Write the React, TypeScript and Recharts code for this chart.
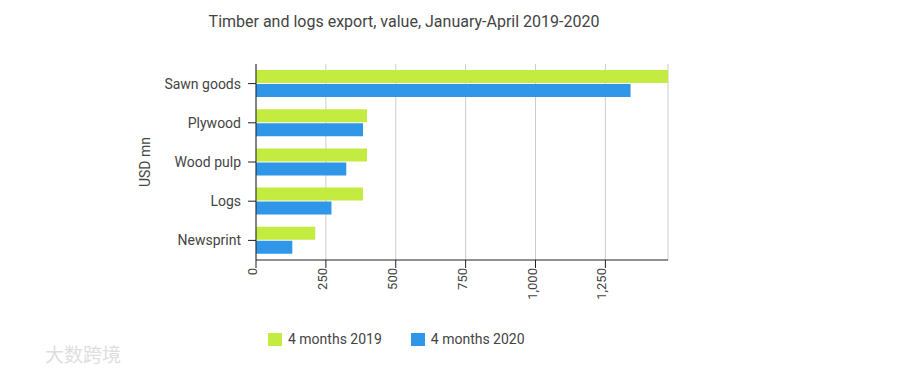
import { BarChart, Bar, XAxis, YAxis, CartesianGrid, Legend } from "recharts";

// values, USD mn
const categories = ["Sawn goods", "Plywood", "Wood pulp", "Logs", "Newsprint"];
const months2019 = [1474, 397, 397, 383, 212];
const months2020 = [1340, 383, 323, 270, 130];
const xTicks = [0, 250, 500, 750, 1000, 1250];

const seriesNames = ["4 months 2019", "4 months 2020"];
const colors = ["#c3eb40", "#2f96e8"];

const data = categories.map((name, i) => ({
  name,
  y2019: months2019[i],
  y2020: months2020[i],
}));

const FONT = "Roboto, Arial, sans-serif";
const TEXT = "#444";

function XTick({ x, y, payload }: any) {
  const px = x + 1;
  return (
    <text
      x={px}
      y={y}
      transform={`rotate(-90, ${px}, ${y})`}
      textAnchor="end"
      fontSize={13}
      fontFamily={FONT}
      fill={TEXT}
    >
      {Number(payload.value).toLocaleString("en-US")}
    </text>
  );
}

function LegendBox() {
  return (
    <div style={{ display: "flex", paddingLeft: 268, fontFamily: FONT, fontSize: 14, color: TEXT, lineHeight: "20px" }}>
      {seriesNames.map((s, i) => (
        <div key={s} style={{ display: "flex", alignItems: "center", marginRight: 29 }}>
          <span style={{ width: 14, height: 13, background: colors[i], marginRight: 6, display: "inline-block" }} />
          <span>{s}</span>
        </div>
      ))}
    </div>
  );
}

export default function App() {
  return (
    <div style={{ position: "absolute", left: 0, top: 0, width: 920, height: 374, background: "#fff" }}>
      <div
        style={{
          position: "absolute", left: 0, top: 12, width: 808, textAlign: "center",
          fontFamily: FONT, fontSize: 16, color: TEXT, lineHeight: "20px",
        }}
      >
        Timber and logs export, value, January-April 2019-2020
      </div>
      <BarChart
        width={920}
        height={374}
        data={data}
        layout="vertical"
        margin={{ top: 64, right: 252, bottom: 25, left: 0 }}
        barSize={13}
        barGap={1}
      >
        <CartesianGrid horizontal={false} stroke="#ccc" />
        <XAxis
          type="number"
          domain={[0, "dataMax"]}
          ticks={xTicks}
          height={69}
          tickSize={8}
          tickMargin={0}
          stroke="#222"
          tick={<XTick />}
        />
        <YAxis
          type="category"
          dataKey="name"
          width={256}
          tickSize={8}
          tickMargin={7}
          stroke="#222"
          tick={{ fontSize: 14, fontFamily: FONT, fill: TEXT }}
          label={{ value: "USD mn", angle: -90, position: "center", dx: 17, style: { fontSize: 14, fontFamily: FONT, fill: TEXT } }}
        />
        <Legend verticalAlign="bottom" content={<LegendBox />} wrapperStyle={{ left: 0, width: 920 }} />
        <Bar dataKey="y2019" name={seriesNames[0]} fill={colors[0]} isAnimationActive={false} />
        <Bar dataKey="y2020" name={seriesNames[1]} fill={colors[1]} isAnimationActive={false} />
      </BarChart>
      <div
        style={{
          position: "absolute", left: 45, top: 343, fontFamily: "'Noto Sans CJK SC', sans-serif",
          fontSize: 19, color: "#dedede", lineHeight: "22px",
        }}
      >
        大数跨境
      </div>
    </div>
  );
}
